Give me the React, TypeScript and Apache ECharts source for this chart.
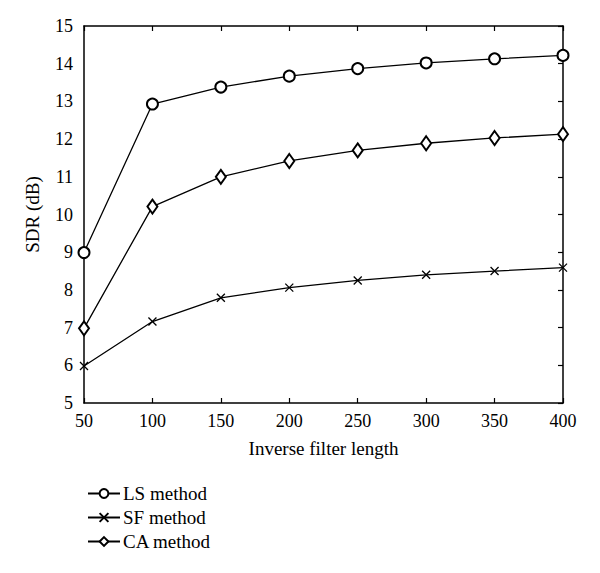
import React, { useEffect, useRef } from "react";
import * as echarts from "echarts";

const xValues = [50, 100, 150, 200, 250, 300, 350, 400];
const lsValues = [8.99, 12.93, 13.38, 13.67, 13.87, 14.02, 14.13, 14.22];
const sfValues = [5.98, 7.16, 7.79, 8.06, 8.25, 8.4, 8.5, 8.59];
const caValues = [6.98, 10.21, 11.0, 11.42, 11.7, 11.89, 12.03, 12.13];
const seriesNames = ["LS method", "SF method", "CA method"];

const FONT = "'Liberation Serif', 'DejaVu Serif', serif";
const CROSS = "path://M0,0L10,10M10,0L0,10";

export default function App() {
  const ref = useRef<HTMLDivElement>(null);
  useEffect(() => {
    if (!ref.current) return;
    const chart = echarts.init(ref.current, null, { renderer: "svg" });
    const pair = (arr: number[]) => xValues.map((x, i) => [x, arr[i]]);
    const lineStyle = { color: "#000", width: 1.3 };
    const axisLine = { show: true, lineStyle: { color: "#000", width: 1.5 } };
    const tick = { show: true, inside: true, length: 5, lineStyle: { color: "#000", width: 1.2 } };
    chart.setOption({
      animation: false,
      backgroundColor: "#fff",
      textStyle: { fontFamily: FONT },
      grid: { left: 84, right: 37, top: 26, bottom: 170 },
      legend: {
        orient: "vertical",
        left: 82,
        top: 479,
        itemWidth: 32,
        itemHeight: 11,
        itemGap: 5,
        textStyle: { fontFamily: FONT, fontSize: 19, color: "#000", padding: [0, 0, 0, -2] },
        data: seriesNames,
      },
      xAxis: [
        {
          type: "value",
          min: 50,
          max: 400,
          interval: 50,
          name: "Inverse filter length",
          nameLocation: "middle",
          nameGap: 36,
          nameTextStyle: { fontFamily: FONT, fontSize: 19, color: "#000" },
          axisLine,
          axisTick: tick,
          axisLabel: { fontFamily: FONT, fontSize: 18, color: "#000", margin: 9 },
          splitLine: { show: false },
        },
        {
          type: "value",
          position: "top",
          min: 50,
          max: 400,
          interval: 50,
          axisLine,
          axisTick: tick,
          axisLabel: { show: false },
          splitLine: { show: false },
        },
      ],
      yAxis: [
        {
          type: "value",
          min: 5,
          max: 15,
          interval: 1,
          name: "SDR (dB)",
          nameLocation: "middle",
          nameGap: 42,
          nameRotate: 90,
          nameTextStyle: { fontFamily: FONT, fontSize: 19, color: "#000" },
          axisLine,
          axisTick: { show: false },
          axisLabel: { fontFamily: FONT, fontSize: 18, color: "#000", margin: 11 },
          splitLine: { show: false },
        },
        {
          type: "value",
          position: "right",
          min: 5,
          max: 15,
          interval: 1,
          axisLine,
          axisTick: tick,
          axisLabel: { show: false },
          splitLine: { show: false },
        },
      ],
      series: [
        {
          name: seriesNames[0],
          type: "line",
          data: pair(lsValues),
          symbol: "emptyCircle",
          symbolSize: 11,
          lineStyle,
          itemStyle: { color: "#000", borderColor: "#000", borderWidth: 1.3 },
        },
        {
          name: seriesNames[1],
          type: "line",
          data: pair(sfValues),
          symbol: CROSS,
          symbolSize: 8,
          lineStyle,
          itemStyle: { color: "#000", borderColor: "#000", borderWidth: 1.3 },
        },
        {
          name: seriesNames[2],
          type: "line",
          data: pair(caValues),
          symbol: "emptyDiamond",
          symbolSize: [10, 14],
          lineStyle,
          itemStyle: { color: "#000", borderColor: "#000", borderWidth: 1.3 },
        },
      ],
    });
    return () => chart.dispose();
  }, []);
  return (
    <div
      ref={ref}
      style={{ position: "absolute", left: 0, top: 0, width: 600, height: 573 }}
    />
  );
}
